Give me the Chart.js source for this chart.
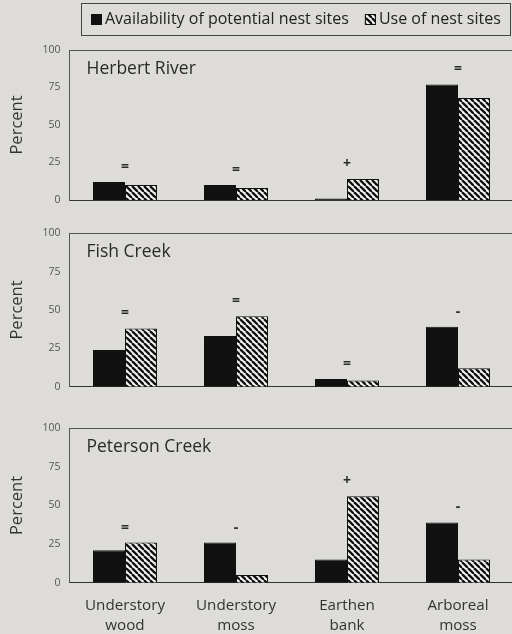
<!DOCTYPE html>
<html lang="en">
<head>
<meta charset="UTF-8">
<title>Availability and use of nest sites</title>
<script src="https://cdn.jsdelivr.net/npm/chart.js"></script>
<style>
  html, body { margin: 0; padding: 0; overflow: hidden; }
  body { width: 512px; height: 634px; position: relative; background: #dddcd8; font-family: "Open Sans", sans-serif; }
  .panel { position: absolute; left: 0; width: 516px; }
</style>
</head>
<body>
<div class="panel" style="top:0;height:210px"><canvas id="c1"></canvas></div>
<div class="panel" style="top:223px;height:174px"><canvas id="c2"></canvas></div>
<div class="panel" style="top:418px;height:216px"><canvas id="c3"></canvas></div>

<script>
// data
const categories = [['Understory', 'wood'], ['Understory', 'moss'], ['Earthen', 'bank'], ['Arboreal', 'moss']];
const seriesNames = ['Availability of potential nest sites', 'Use of nest sites'];
const yTicks = [0, 25, 50, 75, 100];

const herbertAvail = [12, 10, 1, 77];
const herbertUse = [10, 8, 14, 68];
const herbertSigns = ['=', '=', '+', '='];

const fishAvail = [24, 33, 5, 39];
const fishUse = [38, 46, 4, 12];
const fishSigns = ['=', '=', '=', '-'];

const petersonAvail = [21, 26, 15, 39];
const petersonUse = [26, 5, 56, 15];
const petersonSigns = ['=', '-', '+', '-'];

const FONT = '"Open Sans", sans-serif';

// diagonal hatch fill
function makeHatch() {
    const s = 6;
    const c = document.createElement('canvas');
    c.width = s; c.height = s;
    const g = c.getContext('2d');
    g.fillStyle = '#f4f4f2';
    g.fillRect(0, 0, s, s);
    g.strokeStyle = '#111';
    g.lineWidth = 2.3;
    for (let k = -1; k <= 1; k++) {
        g.beginPath();
        g.moveTo(k * s, 0);
        g.lineTo(k * s + s, s);
        g.stroke();
    }
    return g.createPattern(c, 'repeat');
}
const hatch = makeHatch();

// frame top line, site name and the =/+/- marks
const panelDecor = {
    id: 'panelDecor',
    afterDatasetsDraw(chart, args, opts) {
        const ctx = chart.ctx;
        const a = chart.chartArea;
        const x = chart.scales.x, y = chart.scales.y;
        ctx.save();
        ctx.strokeStyle = '#555';
        ctx.lineWidth = 1;
        ctx.beginPath();
        ctx.moveTo(a.left, Math.round(a.top) + 0.5);
        ctx.lineTo(a.right, Math.round(a.top) + 0.5);
        ctx.stroke();

        ctx.fillStyle = '#2a2a2a';
        ctx.font = '17.5px ' + FONT;
        ctx.textBaseline = 'middle';
        ctx.textAlign = 'left';
        ctx.fillText(opts.title, a.left + 17, a.top + 19);

        ctx.font = 'bold 14px ' + FONT;
        ctx.textAlign = 'center';
        opts.signs.forEach((s, i) => {
            const top = Math.max(...chart.data.datasets.map(d => d.data[i]));
            ctx.fillText(s, x.getPixelForValue(i), y.getPixelForValue(top) - 15);
        });
        ctx.restore();
    }
};

// boxed legend above the first panel
const boxLegend = {
    id: 'boxLegend',
    afterDraw(chart) {
        const ctx = chart.ctx;
        ctx.save();
        ctx.strokeStyle = '#444';
        ctx.lineWidth = 1;
        ctx.strokeRect(81.5, 3.5, 429, 32);
        ctx.font = '16px ' + FONT;
        ctx.textBaseline = 'middle';
        let x = 91;
        const cy = 19.5;
        chart.data.datasets.forEach(d => {
            ctx.fillStyle = d.backgroundColor;
            ctx.fillRect(x, cy - 5.5, 11, 11);
            ctx.strokeStyle = '#111';
            ctx.strokeRect(x + 0.5, cy - 5, 10, 10);
            ctx.fillStyle = '#222';
            ctx.fillText(d.label, x + 14, cy);
            x += 14 + ctx.measureText(d.label).width + 16;
        });
        ctx.restore();
    }
};

function makePanel(id, title, avail, use, signs, pad, showLabels, extra) {
    const plugins = [panelDecor];
    if (extra) plugins.push(extra);
    return new Chart(document.getElementById(id), {
        type: 'bar',
        data: {
            labels: categories,
            datasets: [{
                label: seriesNames[0],
                data: avail,
                backgroundColor: '#111',
                borderColor: '#111',
                borderWidth: 1
            }, {
                label: seriesNames[1],
                data: use,
                backgroundColor: hatch,
                borderColor: '#111',
                borderWidth: 1
            }]
        },
        options: {
            responsive: true,
            maintainAspectRatio: false,
            animation: false,
            layout: { padding: { top: pad.top, bottom: pad.bottom, left: 0, right: 2.5 } },
            datasets: { bar: { categoryPercentage: 0.577, barPercentage: 1 } },
            scales: {
                x: {
                    grid: { display: false, drawTicks: false },
                    border: { display: true, color: '#333', width: 1 },
                    ticks: {
                        display: showLabels,
                        maxRotation: 0,
                        autoSkip: false,
                        padding: 13.3,
                        color: '#333',
                        font: { family: FONT, size: 15.2, lineHeight: 1.32 }
                    },
                    afterFit: s => { s.height = showLabels ? 51.3 : 0; }
                },
                y: {
                    min: 0,
                    max: 100,
                    afterBuildTicks: s => { s.ticks = yTicks.map(v => ({ value: v })); },
                    grid: { display: false, drawTicks: false },
                    border: { display: true, color: '#555', width: 1 },
                    ticks: {
                        padding: 9,
                        color: '#555',
                        font: { family: FONT, size: 10.5 }
                    },
                    title: {
                        display: true,
                        text: 'Percent',
                        color: '#333',
                        padding: { top: 7.5, bottom: 0 },
                        font: { family: FONT, size: 16.5 }
                    },
                    afterFit: s => { s.width = 69.5; s.paddingTop = 0; s.paddingBottom = 0; }
                }
            },
            plugins: {
                legend: { display: false },
                tooltip: { enabled: false },
                panelDecor: { title: title, signs: signs }
            }
        },
        plugins: plugins
    });
}

makePanel('c1', 'Herbert River', herbertAvail, herbertUse, herbertSigns, { top: 50, bottom: 10 }, false, boxLegend);
makePanel('c2', 'Fish Creek', fishAvail, fishUse, fishSigns, { top: 10.3, bottom: 10.3 }, false);
makePanel('c3', 'Peterson Creek', petersonAvail, petersonUse, petersonSigns, { top: 10.3, bottom: 0 }, true);
</script>
</body>
</html>
